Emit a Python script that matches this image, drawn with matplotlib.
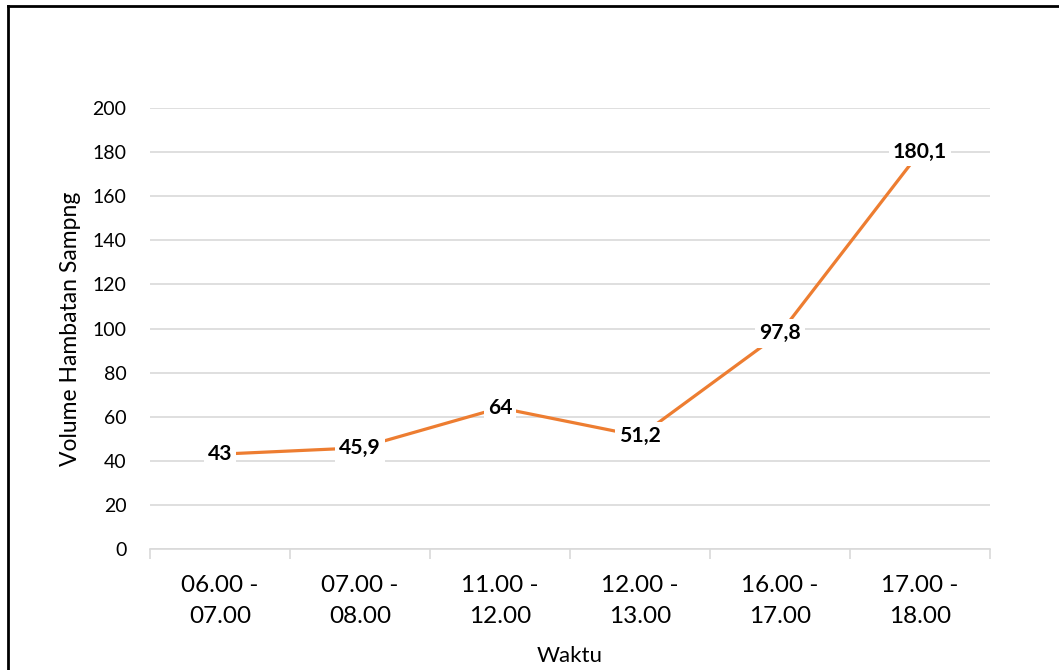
import matplotlib
matplotlib.use("Agg")
import matplotlib.pyplot as plt
from matplotlib.lines import Line2D

categories = ["06.00 -\n07.00", "07.00 -\n08.00", "11.00 -\n12.00",
              "12.00 -\n13.00", "16.00 -\n17.00", "17.00 -\n18.00"]
values = [43, 45.9, 64, 51.2, 97.8, 180.1]
value_labels = ["43", "45,9", "64", "51,2", "97,8", "180,1"]
yticks = [0, 20, 40, 60, 80, 100, 120, 140, 160, 180, 200]

plt.rcParams['font.family'] = ['Lato', 'DejaVu Sans']

fig = plt.figure(figsize=(10.59, 6.70), dpi=100)
ax = fig.add_axes([150/1059, 1-549/670, 840/1059, 441/670])

x = list(range(len(categories)))
ax.plot(x, values, color="#ED7D31", linewidth=2.3, solid_capstyle="round", zorder=3)
for xi, v, lab in zip(x, values, value_labels):
    ax.text(xi, v, lab, ha="center", va="center", fontsize=15.2, fontweight="bold",
            color="black", zorder=4,
            bbox=dict(boxstyle="square,pad=0.2", fc="white", ec="none"))

ax.set_xlim(-0.5, len(categories) - 0.5)
ax.set_ylim(0, 200)
ax.set_yticks(yticks)
ax.set_yticklabels([str(t) for t in yticks], fontsize=14)
ax.tick_params(axis="y", length=0, pad=17)
ax.set_xticks(x)
ax.set_xticklabels(categories, fontsize=17.5, linespacing=1.58)
ax.set_xticks([i - 0.5 for i in range(len(categories) + 1)], minor=True)
ax.tick_params(axis="x", which="major", length=0, pad=18.5)
ax.tick_params(axis="x", which="minor", length=7, color="#D9D9D9", width=1.2, direction="out")

ax.grid(axis="y", color="#D9D9D9", linewidth=1.2, zorder=0)
ax.set_axisbelow(True)
for s in ["top", "right", "left"]:
    ax.spines[s].set_visible(False)
ax.spines["bottom"].set_color("#D9D9D9")
ax.spines["bottom"].set_linewidth(1.2)

ax.set_ylabel("Volume Hambatan Sampng", fontsize=16.5)
ax.yaxis.set_label_coords(-0.0825, 0.5)
ax.set_xlabel("Waktu", fontsize=16)
ax.xaxis.set_label_coords(0.5, -0.243)
ax.xaxis.label.set_verticalalignment("center")

# figure border (top and left visible)
fig.add_artist(Line2D([8/1059, 1], [1-6/670, 1-6/670], color="black", linewidth=2, transform=fig.transFigure))
fig.add_artist(Line2D([8/1059, 8/1059], [0, 1-6/670], color="black", linewidth=2, transform=fig.transFigure))

fig.savefig("out.png", dpi=100)
